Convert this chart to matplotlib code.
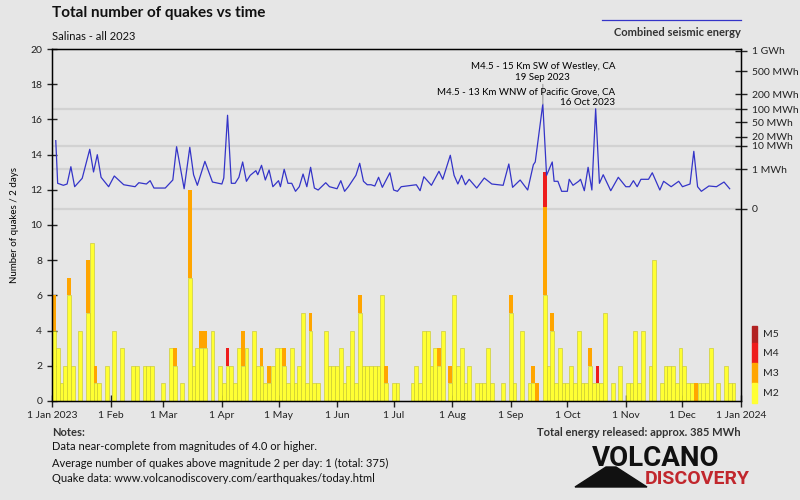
import numpy as np
import matplotlib.pyplot as plt
from matplotlib.lines import Line2D
from matplotlib.patches import Rectangle, Polygon

plt.rcParams['font.family'] = ['Lato', 'DejaVu Sans']

# number of quakes per 2-day bin, bin 0 = 1-2 Jan 2023
m2 = [4, 3, 1, 2, 6, 2, 0, 4, 0, 5,
      9, 1, 1, 0, 2, 0, 4, 0, 3, 0,
      0, 2, 2, 0, 2, 2, 2, 0, 0, 1,
      0, 3, 2, 0, 1, 0, 7, 2, 3, 3,
      3, 0, 4, 0, 2, 1, 2, 2, 1, 3,
      2, 3, 0, 4, 2, 2, 1, 1, 2, 3,
      3, 2, 1, 3, 1, 2, 5, 1, 4, 1,
      1, 0, 4, 2, 2, 2, 3, 1, 2, 4,
      1, 5, 2, 2, 2, 2, 2, 6, 1, 0,
      1, 1, 0, 0, 0, 1, 2, 1, 4, 4,
      2, 3, 2, 4, 0, 1, 6, 2, 3, 1,
      2, 0, 1, 1, 1, 3, 1, 0, 0, 1,
      0, 5, 1, 0, 4, 0, 1, 1, 0, 0,
      6, 2, 4, 1, 3, 1, 1, 2, 1, 4,
      1, 1, 2, 1, 1, 1, 5, 0, 1, 0,
      2, 0, 1, 1, 4, 1, 4, 0, 2, 8,
      0, 1, 2, 2, 2, 1, 3, 2, 1, 1,
      0, 1, 1, 1, 3, 0, 1, 0, 2, 1,
      1, 0, 0]
# bins with M3 / M4 / M5 quakes: {bin: count}
m3 = {0: 2, 4: 1, 9: 3, 11: 1, 32: 1, 36: 5, 39: 1, 40: 1, 50: 2, 55: 1,
      57: 1, 61: 1, 68: 1, 81: 1, 88: 1, 102: 1, 105: 1, 121: 1, 127: 1,
      128: 1, 130: 5, 132: 1, 142: 1, 170: 1}
m4 = {46: 1, 130: 2, 144: 1}
m5 = {}

# combined seismic energy line (day of year, MWh)
energy_day = [2, 3, 6, 8, 10, 12, 16, 20, 22, 24, 26, 30, 33, 38, 44, 46, 50, 52,
              54, 60, 64, 66, 70, 73, 75, 77, 81, 85, 90, 91, 93, 95, 97, 99, 101,
              103, 105, 108, 109, 111, 113, 115, 117, 120, 121, 123, 125, 127, 129,
              131, 133, 135, 137, 139, 141, 145, 147, 151, 153, 155, 157, 161, 163,
              165, 167, 169, 171, 173, 175, 179, 181, 183, 185, 193, 195, 197, 201,
              205, 207, 211, 213, 215, 217, 219, 221, 225, 229, 233, 239, 242, 244,
              248, 252, 255, 256, 260, 262, 265, 266, 268, 270, 273, 274, 276, 279,
              280, 282, 284, 286, 288, 290, 292, 296, 300, 304, 306, 308, 310, 312,
              316, 318, 322, 324, 328, 332, 334, 338, 340, 342, 344, 348, 352, 356,
              359]
energy_mwh = [14.9, 0.107, 0.071, 0.093, 1.33, 0.052, 0.263, 7.55, 0.68, 4.69, 0.31,
              0.052, 0.38, 0.080, 0.052, 0.12, 0.093, 0.175, 0.038, 0.038, 0.198,
              9.36, 0.032, 8.92, 0.46, 0.071, 2.43, 0.137, 0.093, 0.276, 72.9, 0.107,
              0.107, 0.31, 2.27, 0.157, 0.42, 0.81, 0.46, 1.57, 0.198, 0.88, 0.052,
              0.175, 0.052, 0.97, 0.107, 0.107, 0.016, 0.052, 0.51, 0.052, 1.24,
              0.038, 0.023, 0.12, 0.052, 0.032, 0.175, 0.016, 0.052, 0.42, 1.97,
              0.157, 0.080, 0.080, 0.061, 0.31, 0.045, 0.61, 0.023, 0.016, 0.052,
              0.080, 0.019, 0.34, 0.071, 0.745, 0.223, 4.44, 0.42, 0.093, 0.42,
              0.080, 0.223, 0.038, 0.276, 0.093, 0.071, 1.82, 0.045, 0.198, 0.023,
              1.68, 2.27, 128.9, 0.42, 2.27, 0.157, 0.157, 0.016, 0.016, 0.223,
              0.071, 0.157, 0.223, 0.019, 1.24, 0.023, 102.0, 0.107, 0.46, 0.019,
              0.31, 0.052, 0.052, 0.175, 0.052, 0.223, 0.223, 0.61, 0.023, 0.157,
              0.052, 0.157, 0.052, 0.093, 6.36, 0.052, 0.016, 0.061, 0.052, 0.137,
              0.032]

month_day = [0, 31, 59, 90, 120, 151, 181, 212, 243, 273, 304, 334, 365]
month_lbl = ['1 Jan 2023', '1 Feb', '1 Mar', '1 Apr', '1 May', '1 Jun', '1 Jul',
             '1 Aug', '1 Sep', '1 Oct', '1 Nov', '1 Dec', '1 Jan 2024']

energy_ticks = [0, 1, 10, 20, 50, 100, 200, 500, 1000]
energy_lbl = ['0', '1 MWh', '10 MWh', '20 MWh', '50 MWh', '100 MWh', '200 MWh',
              '500 MWh', '1 GWh']
energy_grid = [0, 1, 10, 100]

notes = ['Data near-complete from magnitudes of 4.0 or higher.',
         'Average number of quakes above magnitude 2 per day: 1 (total: 375)',
         'Quake data: www.volcanodiscovery.com/earthquakes/today.html']

bg = '#e6e6e6'
colors = {'M2': '#ffff33', 'M3': '#ffa500', 'M4': '#ee1c1c', 'M5': '#b22222'}
blue = '#3434c8'

# energy axis: fifth-root scale lined up with the count axis
ea, eb = 2.25, 10.93
fwd = lambda e: np.sign(e) * np.abs(e) ** 0.2
inv = lambda u: np.sign(u) * np.abs(u) ** 5

fig = plt.figure(figsize=(8, 5), dpi=100, facecolor=bg)
ax = fig.add_axes([52 / 800, 99 / 500, 689 / 800, 352 / 500], facecolor=bg)

for v in energy_grid:
    ax.axhline(eb + ea * fwd(v), color='#d2d2d2', lw=1.6, zorder=0)

n = len(m2)
x = np.arange(n) * 2
bottom = np.zeros(n)
for name, vals in [('M2', m2), ('M3', m3), ('M4', m4), ('M5', m5)]:
    if isinstance(vals, dict):
        h = np.array([vals.get(i, 0) for i in range(n)], dtype=float)
    else:
        h = np.array(vals, dtype=float)
    ax.bar(x, h, width=2, bottom=bottom, align='edge', color=colors[name],
           edgecolor='#c4c42a' if name == 'M2' else 'none', linewidth=0.4, zorder=2)
    bottom += h

ax.set_xlim(0, 365)
ax.set_ylim(0, 20)
ax.set_yticks(range(0, 21, 2))
ax.set_xticks(month_day)
ax.set_xticklabels(month_lbl)
ax.tick_params(axis='both', direction='inout', length=7, width=1, labelsize=7.5,
               colors='#222222')
ax.tick_params(axis='x', length=8, pad=3)
for s in ax.spines.values():
    s.set_linewidth(1)
ax.set_ylabel('Number of quakes / 2 days', fontsize=7, labelpad=8)

ax2 = ax.twinx()
ax2.set_yscale('function', functions=(fwd, inv))
ax2.set_ylim(inv((0 - eb) / ea), inv((20 - eb) / ea))
ax2.plot(energy_day, energy_mwh, color=blue, lw=0.9, zorder=3)
ax2.set_yticks(energy_ticks)
ax2.set_yticklabels(energy_lbl)
ax2.yaxis.set_minor_locator(plt.NullLocator())
ax2.tick_params(axis='y', direction='inout', length=8, width=1, labelsize=7.5,
                colors='#222222', pad=4)

# labels of the two largest quakes
ax2.annotate('M4.5 - 15 Km SW of Westley, CA\n19 Sep 2023', xy=(260, 128.9),
             xytext=(0, 16), textcoords='offset points', ha='center', va='bottom',
             fontsize=7, linespacing=1.25,
             arrowprops=dict(arrowstyle='-', color='#aaaaaa', lw=1, shrinkA=0, shrinkB=0))
ax2.annotate('M4.5 - 13 Km WNW of Pacific Grove, CA\n16 Oct 2023', xy=(288, 102.0),
             xytext=(14, 1), textcoords='offset points', ha='right', va='bottom',
             fontsize=7, linespacing=1.25, multialignment='right')

# titles
fig.text(52 / 800, 1 - 13 / 500, 'Total number of quakes vs time', fontsize=11,
         weight='bold', va='center', color='#111111')
fig.text(52 / 800, 1 - 36 / 500, 'Salinas - all 2023', fontsize=8, va='center',
         color='#111111')

# energy legend
fig.add_artist(Line2D([602 / 800, 741 / 800], [1 - 20 / 500] * 2, color=blue, lw=0.9))
fig.text(741 / 800, 1 - 32 / 500, 'Combined seismic energy', fontsize=8,
         weight='bold', ha='right', va='center', color='#333333')

# magnitude legend strip
strip = [('M5', 326, 343), ('M4', 343, 363), ('M3', 363, 383), ('M2', 383, 403)]
for name, y0, y1 in strip:
    fig.add_artist(Rectangle((752 / 800, 1 - y1 / 500), 5 / 800, (y1 - y0) / 500,
                             color=colors[name], transform=fig.transFigure))
    fig.text(763 / 800, 1 - (y0 + y1) / 2 / 500, name, fontsize=7.5, va='center',
             color='#222222')

# notes
fig.text(52 / 800, 1 - 432 / 500, 'Notes:', fontsize=8, weight='bold', va='center',
         color='#333333')
for i, t in enumerate(notes):
    fig.text(52 / 800, 1 - (447 + 16 * i) / 500, t, fontsize=8, va='center',
             color='#111111')
fig.text(741 / 800, 1 - 432 / 500, 'Total energy released: approx. 385 MWh',
         fontsize=8, weight='bold', ha='right', va='center', color='#333333')

# logo
fig.add_artist(Polygon([(575 / 800, 1 - 487 / 500), (606 / 800, 1 - 467 / 500),
                        (616 / 800, 1 - 467 / 500), (647 / 800, 1 - 487 / 500)],
                       closed=True, color='#111111', transform=fig.transFigure))
fig.text(656 / 800, 1 - 459 / 500, 'VOLCANO', fontsize=20, weight='bold',
         ha='center', va='center', color='#111111', family=['Roboto', 'DejaVu Sans'])
fig.text(697 / 800, 1 - 479 / 500, 'DISCOVERY', fontsize=14, weight='bold',
         ha='center', va='center', color='#c1272d', family=['Roboto', 'DejaVu Sans'])

fig.savefig('out.png', dpi=100, facecolor=bg)
